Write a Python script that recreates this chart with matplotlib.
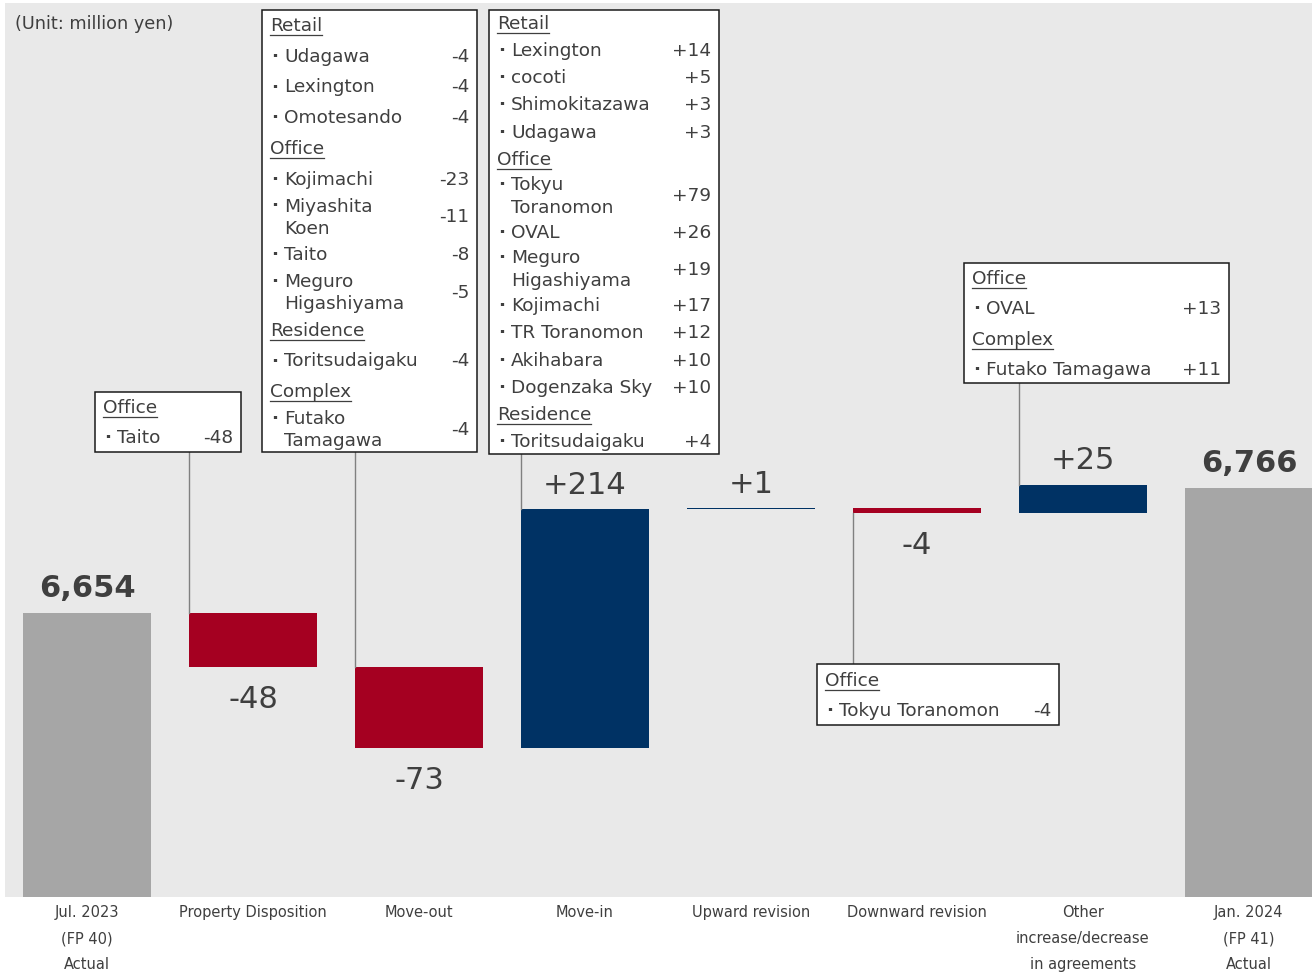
import matplotlib
matplotlib.use("Agg")
import matplotlib.pyplot as plt
from matplotlib.patches import Rectangle
from matplotlib.lines import Line2D

W, H = 1312, 976

categories = ["Jul. 2023\n(FP 40)\nActual", "Property Disposition", "Move-out", "Move-in",
              "Upward revision", "Downward revision",
              "Other\nincrease/decrease\nin agreements", "Jan. 2024\n(FP 41)\nActual"]
start_value = 6654
end_value = 6766
changes = [-48, -73, 214, 1, -4, 25]

# breakdown lists: (name, value); value None marks a sector heading
disposition_items = [("Office", None), ("Taito", "-48")]
move_out_items = [("Retail", None), ("Udagawa", "-4"), ("Lexington", "-4"), ("Omotesando", "-4"),
                  ("Office", None), ("Kojimachi", "-23"), ("Miyashita\nKoen", "-11"), ("Taito", "-8"),
                  ("Meguro\nHigashiyama", "-5"), ("Residence", None), ("Toritsudaigaku", "-4"),
                  ("Complex", None), ("Futako\nTamagawa", "-4")]
move_in_items = [("Retail", None), ("Lexington", "+14"), ("cocoti", "+5"), ("Shimokitazawa", "+3"),
                 ("Udagawa", "+3"), ("Office", None), ("Tokyu\nToranomon", "+79"), ("OVAL", "+26"),
                 ("Meguro\nHigashiyama", "+19"), ("Kojimachi", "+17"), ("TR Toranomon", "+12"),
                 ("Akihabara", "+10"), ("Dogenzaka Sky", "+10"), ("Residence", None),
                 ("Toritsudaigaku", "+4")]
downward_items = [("Office", None), ("Tokyu Toranomon", "-4")]
other_items = [("Office", None), ("OVAL", "+13"), ("Complex", None), ("Futako Tamagawa", "+11")]

GRAY = "#a6a6a6"
RED = "#a50021"
NAVY = "#003264"
TEXT = "#3f3f3f"
BAR_W = 0.771
BOX_FS = 13.3

fig = plt.figure(figsize=(W / 100, H / 100), dpi=100)
ax = fig.add_axes([5 / W, 79 / H, 1 - 5 / W, (973 - 79) / H])
ax.set_facecolor("#e9e9e9")
ax.set_xlim(-0.494, 7.38)
ax.set_ylim(6400, 7200)
for s in ax.spines.values():
    s.set_visible(False)
ax.set_yticks([])

# start / end totals
ax.bar([0, 7], [start_value, end_value], width=BAR_W, color=GRAY)

running = start_value
bar_tops, bar_bottoms = [start_value], [6400]
for i, c in enumerate(changes, start=1):
    bottom = running if c > 0 else running + c
    ax.bar(i, abs(c), bottom=bottom, width=BAR_W, color=NAVY if c > 0 else RED)
    bar_tops.append(bottom + abs(c))
    bar_bottoms.append(bottom)
    if c > 0:
        ax.annotate(f"{c:+d}", (i, bottom + abs(c)), xytext=(0, 11), textcoords="offset points",
                    ha="center", va="baseline", fontsize=22, color=TEXT)
    else:
        ax.annotate(f"{c:+d}", (i, bottom), xytext=(0, -29.5), textcoords="offset points",
                    ha="center", va="baseline", fontsize=22, color=TEXT)
    running += c
bar_tops.append(end_value)

for i, v in [(0, start_value), (7, end_value)]:
    ax.annotate(f"{v:,}", (i, v), xytext=(0, 11.5), textcoords="offset points",
                ha="center", va="baseline", fontsize=22, fontweight="bold", color=TEXT)

ax.set_xticks(range(len(categories)))
ax.set_xticklabels(categories, fontsize=10.5, color=TEXT)
ax.tick_params(axis="x", length=0, pad=6)
for t in ax.get_xticklabels():
    t.set_linespacing(1.9)

fig.text(15 / W, 1 - 24 / H, "(Unit: million yen)", fontsize=12.7, color=TEXT, va="center")

renderer = fig.canvas.get_renderer()


def fx(p):
    return p / W


def fy(p):
    return 1 - p / H


def draw_box(rows, left, top, right, bottom, first_y, last_y, inner=22, shrink=0):
    fig.add_artist(Rectangle((fx(left), fy(bottom)), (right - left) / W, (bottom - top) / H,
                             transform=fig.transFigure, facecolor="white",
                             edgecolor="#1a1a1a", lw=1.1, zorder=3))
    multi = [name.count("\n") > 0 for name, _ in rows]
    extra = sum(name.count("\n") for name, _ in rows)
    tight = sum(multi[k] or multi[k + 1] for k in range(len(rows) - 1))
    pitch = (last_y - first_y - inner * extra + shrink * tight) / (len(rows) - 1)
    y = first_y
    for k, (name, val) in enumerate(rows):
        lines = name.split("\n")
        if val is None:
            t = fig.text(fx(left + 8), fy(y), name, fontsize=BOX_FS, color=TEXT, va="center", zorder=4)
            bb = t.get_window_extent(renderer=renderer)
            fig.add_artist(Line2D([bb.x0 / W, bb.x1 / W], [fy(y + 9)] * 2, color=TEXT, lw=0.9,
                                  transform=fig.transFigure, zorder=4))
        else:
            fig.text(fx(left + 9), fy(y), "\u00b7", fontsize=BOX_FS, fontweight="bold",
                     color=TEXT, va="center", zorder=4)
            for j, line in enumerate(lines):
                fig.text(fx(left + 22), fy(y + j * inner), line, fontsize=BOX_FS, color=TEXT,
                         va="center", zorder=4)
            fig.text(fx(right - 8), fy(y + inner * (len(lines) - 1) / 2), val, fontsize=BOX_FS,
                     color=TEXT, ha="right", va="center", zorder=4)
        if k < len(rows) - 1:
            step = pitch - (shrink if (multi[k] or multi[k + 1]) else 0)
            y += inner * (len(lines) - 1) + step


def connector(idx, y_data, y_pixel):
    xe = idx - BAR_W / 2
    y_box = ax.transData.inverted().transform((0, H - y_pixel))[1]
    ax.plot([xe, xe], [y_data, y_box], color="#808080", lw=1, clip_on=False, zorder=1)


draw_box(disposition_items, 95, 392, 241, 452, 408, 438)
draw_box(move_out_items, 262, 10, 477, 452, 26, 441, shrink=4)
draw_box(move_in_items, 489, 10, 719, 454, 24, 442, inner=23, shrink=2)
draw_box(other_items, 964, 263, 1229, 383, 279, 370)
draw_box(downward_items, 817, 664, 1059, 725, 681, 711)

connector(1, bar_tops[1], 452)
connector(2, bar_tops[2], 452)
connector(3, bar_tops[3], 454)
connector(6, bar_tops[6], 383)
connector(5, bar_bottoms[5], 664)

fig.savefig("out.png", dpi=100)
